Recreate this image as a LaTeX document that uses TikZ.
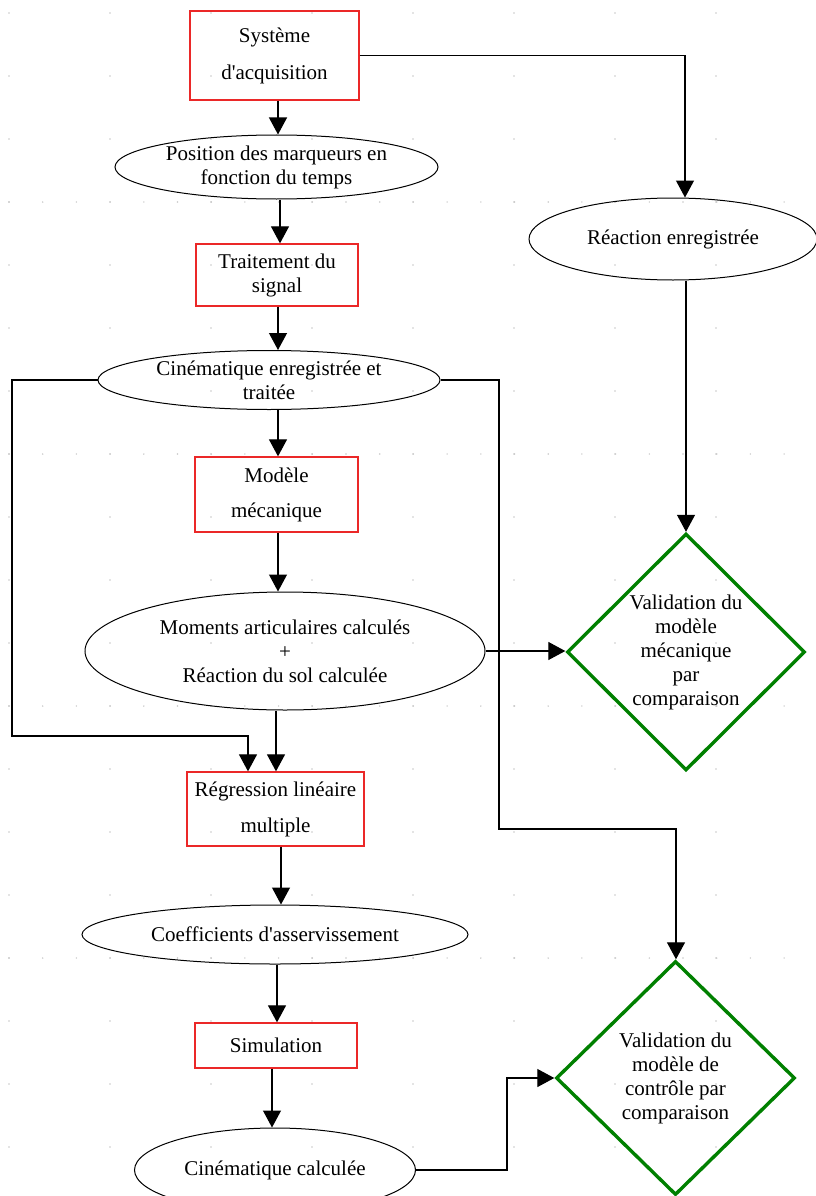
\documentclass[tikz,border=0pt]{standalone}
\usepackage{fontspec}
\setmainfont{Liberation Serif}[Ligatures=TeXOff]
\usetikzlibrary{shapes.geometric,arrows.meta}
\definecolor{boxred}{RGB}{235,40,40}
\definecolor{dgreen}{RGB}{0,128,0}
\definecolor{griddot}{RGB}{200,200,200}
\begin{document}
\begin{tikzpicture}[x=1pt,y=-1pt,
  font=\fontsize{21}{24}\selectfont,
  rbox/.style={rectangle,draw=boxred,line width=1.3pt,inner sep=0pt,align=center},
  ell/.style={ellipse,draw=black,line width=1pt,inner sep=0pt,align=center},
  dia/.style={diamond,draw=dgreen,line width=3.4pt,inner sep=0pt,align=center},
  arr/.style={-{Triangle[length=17pt,width=18pt]},line width=1.2pt,black},
  gdot/.style={fill=griddot}]
\useasboundingbox (0,0) rectangle (815,1196);
% background grid dots
\foreach \y in {13,76,...,1196} {
  \foreach \x in {9,110,...,815} { \fill[gdot] (\x,\y) circle (0.8pt); }
}
\foreach \y in {202,454,706,958} {
  \foreach \x in {9,42.7,...,815} { \fill[gdot] (\x,\y) circle (0.8pt); }
}
% nodes
\node[rbox,minimum width=169pt,minimum height=89pt] (sys) at (274.5,55.5) {Système\\[13pt]d'acquisition};
\node[ell,minimum width=323pt,minimum height=64pt] (pos) at (276.5,167) {Position des marqueurs en\\fonction du temps};
\node[rbox,minimum width=162pt,minimum height=62pt] (trt) at (277,275) {Traitement du\\signal};
\node[ell,minimum width=342pt,minimum height=59pt,inner ysep=-1pt] (cin) at (269,380) {Cinématique enregistrée et\\traitée};
\node[rbox,minimum width=163pt,minimum height=75pt] (mod) at (276.5,494.5) {Modèle\\[11pt]mécanique};
\node[ell,minimum width=400pt,minimum height=118pt] (mom) at (285,651) {Moments articulaires calculés\\+\\Réaction du sol calculée};
\node[rbox,minimum width=177pt,minimum height=74pt] (reg) at (275.5,809) {Régression linéaire\\[12pt]multiple};
\node[ell,minimum width=386pt,minimum height=59pt] (coe) at (275,934.5) {Coefficients d'asservissement};
\node[rbox,minimum width=162pt,minimum height=45pt] (sim) at (276,1045.5) {Simulation};
\node[ell,minimum width=281pt,minimum height=84pt] (cal) at (275,1170) {Cinématique calculée};
\node[ell,minimum width=288pt,minimum height=82pt] (rea) at (673,239) {Réaction enregistrée};
\node[dia,minimum width=238pt,minimum height=237pt] (v1) at (686,652) {Validation du\\modèle\\mécanique\\par\\comparaison};
\node[dia,minimum width=239pt,minimum height=234pt] (v2) at (675.5,1078) {Validation du\\modèle de\\contrôle par\\comparaison};
% connectors
\draw[arr] (278,0 |- sys.south) -- (278,0 |- pos.north);
\draw[arr] (280,0 |- pos.south) -- (280,0 |- trt.north);
\draw[arr] (278,0 |- trt.south) -- (278,0 |- cin.north);
\draw[arr] (278,0 |- cin.south) -- (278,0 |- mod.north);
\draw[arr] (278,0 |- mod.south) -- (278,0 |- mom.north);
\draw[arr] (276,0 |- mom.south) -- (276,0 |- reg.north);
\draw[arr] (281,0 |- reg.south) -- (281,0 |- coe.north);
\draw[arr] (277,0 |- coe.south) -- (277,0 |- sim.north);
\draw[arr] (272,0 |- sim.south) -- (272,0 |- cal.north);
\draw[arr] (sys.east) -- (685,0 |- sys.east) -- (685,0 |- rea.north);
\draw[arr] (686,0 |- rea.south) -- (686,0 |- v1.north);
\draw[arr] (mom.east) -- (mom.east -| v1.west);
\draw[arr] (cin.west) -- (12,0 |- cin.west) -- (12,736) -- (248,736) -- (248,0 |- reg.north);
\draw[arr] (cin.east) -- (499,0 |- cin.east) -- (499,829) -- (676,829) -- (676,0 |- v2.north);
\draw[arr] (cal.east) -- (507,0 |- cal.east) -- (507,0 |- v2.west) -- (v2.west);
\end{tikzpicture}
\end{document}
